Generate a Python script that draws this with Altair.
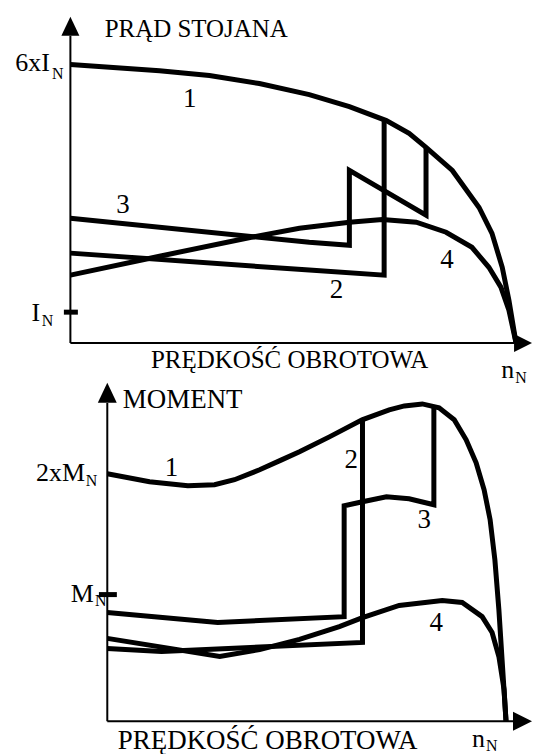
import altair as alt
import pandas as pd

FONT = "Liberation Serif, Times New Roman, serif"

# ---------------- top panel: stator current (speed in % of n_N, current in % of 6xI_N level)
t_c1_x = [0, 20.0, 31.2, 42.4, 53.6, 62.6, 70.9, 76.0, 79.8, 85.7, 91.7, 94.6, 96.9, 98.4, 100]
t_c1_y = [100, 97.8, 96.1, 93.2, 89.2, 84.9, 79.9, 75.3, 70.3, 62.0, 48.7, 39.4, 27.2, 15.4, 0]
t_c2_x = [0, 53.6, 70.4, 70.4]
t_c2_y = [32.3, 26.2, 24.4, 80.2]
t_c3_x = [0, 53.6, 62.6, 62.6, 79.8, 79.8]
t_c3_y = [44.8, 36.2, 35.1, 62.0, 45.9, 70.3]
t_c4_x = [0, 20.0, 40.6, 51.4, 62.6, 70.0, 77.6, 84.3, 90.1, 93.9, 96.6, 98.4, 100]
t_c4_y = [24.4, 31.2, 38.0, 41.2, 43.4, 44.4, 43.4, 39.8, 34.4, 27.2, 20.1, 11.8, 0]

t_num_text = ["1", "2", "3", "4"]
t_num_x = [26.8, 59.7, 11.8, 84.5]
t_num_y = [87.8, 19.0, 49.5, 29.7]

# ---------------- bottom panel: torque (speed in % of n_N, torque in % of 2xM_N level)
b_c1_x = [0, 10.6, 20.2, 26.9, 31.9, 38.2, 43.7, 48.2, 55.7, 63.9, 70.7, 74.5, 79.0, 83.2,
          87.0, 90.0, 92.5, 94.5, 96.0, 97.2, 98.2, 99.0, 100]
b_c1_y = [100, 96.8, 95.2, 95.6, 97.6, 101.6, 105.6, 108.9, 114.9, 121.8, 125.8, 127.4, 128.2, 126.6,
          121.8, 113.7, 104.4, 93.5, 81.5, 65.3, 45.2, 25.0, 0]
b_c2_x = [0, 13.6, 64.0, 64.0]
b_c2_y = [29.4, 28.2, 31.9, 121.8]
b_c3_x = [0, 27.7, 59.4, 59.4, 64.0, 70.0, 75.7, 81.9, 81.9]
b_c3_y = [44.0, 39.9, 42.3, 87.1, 88.7, 90.7, 89.9, 87.5, 127.1]
b_c4_x = [0, 28.2, 38.2, 48.2, 58.2, 64.0, 73.2, 84.0, 89.0, 94.0, 96.5, 98.2, 99.5, 100]
b_c4_y = [33.5, 26.2, 29.0, 33.1, 38.3, 41.9, 46.8, 48.8, 48.0, 42.3, 35.9, 26.2, 12.9, 0]

b_num_text = ["1", "2", "3", "4"]
b_num_x = [16.1, 61.2, 79.5, 82.5]
b_num_y = [102.4, 105.6, 81.5, 39.9]

# tick levels on the value axes
t_tick_level = 11.1      # I_N
b_tick_level = 51.2      # M_N

ARROW_UP = "M0,-1L0.95,1L-0.95,1Z"
ARROW_RIGHT = "M1,0L-1,-1L-1,1Z"


def curves_df(curves):
    rows = []
    for name, xs, ys in curves:
        for i, (x, y) in enumerate(zip(xs, ys)):
            rows.append({"curve": name, "i": i, "x": x, "y": y})
    return pd.DataFrame(rows)


def panel(curves, nums, xs, ys, w, h, axis_end, arrows, tick, main_r, subs, left_txt, center_txt,
          title_size, axis_size):
    X = lambda f="x": alt.X(f, type="quantitative", scale=xs, axis=None)
    Y = lambda f="y": alt.Y(f, type="quantitative", scale=ys, axis=None)

    lines = alt.Chart(curves_df(curves)).mark_line(
        color="black", strokeWidth=5, strokeJoin="miter"
    ).encode(x=X(), y=Y(), detail="curve:N", order="i:Q")

    ax = pd.DataFrame({"x": [0, 0], "y": [0, 0], "x2": [0, axis_end[0]], "y2": [axis_end[1], 0]})
    axes = alt.Chart(ax).mark_rule(color="black", strokeWidth=2).encode(
        x=X(), y=Y(), x2="x2:Q", y2="y2:Q")

    ar = pd.DataFrame(arrows, columns=["x", "y", "shape", "size"])
    arr = alt.Chart(ar).mark_point(filled=True, color="black", opacity=1, strokeWidth=0).encode(
        x=X(), y=Y(), shape=alt.Shape("shape:N", scale=None), size=alt.Size("size:Q", scale=None))

    tk = pd.DataFrame({"x": [tick[0]], "x2": [tick[1]], "y": [tick[2]]})
    ticks = alt.Chart(tk).mark_rule(color="black", strokeWidth=5).encode(x=X(), x2="x2:Q", y=Y())

    nm = pd.DataFrame({"x": nums[1], "y": nums[2], "t": nums[0]})
    numl = alt.Chart(nm).mark_text(font=FONT, fontSize=27, align="center", baseline="middle").encode(
        x=X(), y=Y(), text="t:N")

    mr = pd.DataFrame(main_r, columns=["x", "y", "t"])
    mainl = alt.Chart(mr).mark_text(font=FONT, fontSize=axis_size, align="right", baseline="middle").encode(
        x=X(), y=Y(), text="t:N")

    sb = pd.DataFrame(subs, columns=["x", "y", "t"])
    subl = alt.Chart(sb).mark_text(font=FONT, fontSize=16, align="left", baseline="middle").encode(
        x=X(), y=Y(), text="t:N")

    lt = pd.DataFrame(left_txt, columns=["x", "y", "t"])
    leftl = alt.Chart(lt).mark_text(font=FONT, fontSize=title_size, align="left", baseline="middle").encode(
        x=X(), y=Y(), text="t:N")

    ct = pd.DataFrame(center_txt, columns=["x", "y", "t"])
    centl = alt.Chart(ct).mark_text(font=FONT, fontSize=title_size, align="center", baseline="middle").encode(
        x=X(), y=Y(), text="t:N")

    return alt.layer(axes, ticks, lines, arr, numl, mainl, subl, leftl, centl).properties(width=w, height=h)


top = panel(
    curves=[("1", t_c1_x, t_c1_y), ("2", t_c2_x, t_c2_y), ("3", t_c3_x, t_c3_y), ("4", t_c4_x, t_c4_y)],
    nums=(t_num_text, t_num_x, t_num_y),
    xs=alt.Scale(domain=[-14.0, 103.58], nice=False, zero=False),
    ys=alt.Scale(domain=[-9.68, 120.07], nice=False, zero=False),
    w=525, h=362,
    axis_end=(99.55, 110.4),
    arrows=[(0, 113.8, ARROW_UP, 361), (101.57, 0, ARROW_RIGHT, 324)],
    tick=(-1.46, 1.68, t_tick_level),
    main_r=[(-4.6, 100.4, "6xI"), (-6.8, 10.8, "I"), (99.6, -9.7, "n")],
    subs=[(-4.1, 96.8, "N"), (-6.4, 7.9, "N"), (99.8, -12.5, "N")],
    left_txt=[(7.7, 112.9, "PRĄD STOJANA")],
    center_txt=[(49.2, -6.1, "PRĘDKOŚĆ OBROTOWA")],
    title_size=25, axis_size=26,
)

bottom = panel(
    curves=[("1", b_c1_x, b_c1_y), ("2", b_c2_x, b_c2_y), ("3", b_c3_x, b_c3_y), ("4", b_c4_x, b_c4_y)],
    nums=(b_num_text, b_num_x, b_num_y),
    xs=alt.Scale(domain=[-24.9, 106.51], nice=False, zero=False),
    ys=alt.Scale(domain=[-12.9, 141.9], nice=False, zero=False),
    w=525, h=384,
    axis_end=(101.75, 128.6),
    arrows=[(0, 132.7, ARROW_UP, 400), (104.13, 0, ARROW_RIGHT, 361)],
    tick=(-2.1, 2.4, b_tick_level),
    main_r=[(-5.6, 100.4, "2xM"), (-3.4, 51.6, "M"), (94.7, -7.3, "n")],
    subs=[(-5.4, 97.2, "N"), (-3.1, 48.8, "N"), (95.0, -10.1, "N")],
    left_txt=[(3.9, 129.8, "MOMENT")],
    center_txt=[(40.2, -8.1, "PRĘDKOŚĆ OBROTOWA")],
    title_size=27, axis_size=26,
)

chart = alt.vconcat(top, bottom, spacing=0, bounds="flush").properties(
    padding=0, background="white"
).configure_view(strokeWidth=0)

chart.save("out.html", embed_options={"renderer": "svg", "actions": False})
